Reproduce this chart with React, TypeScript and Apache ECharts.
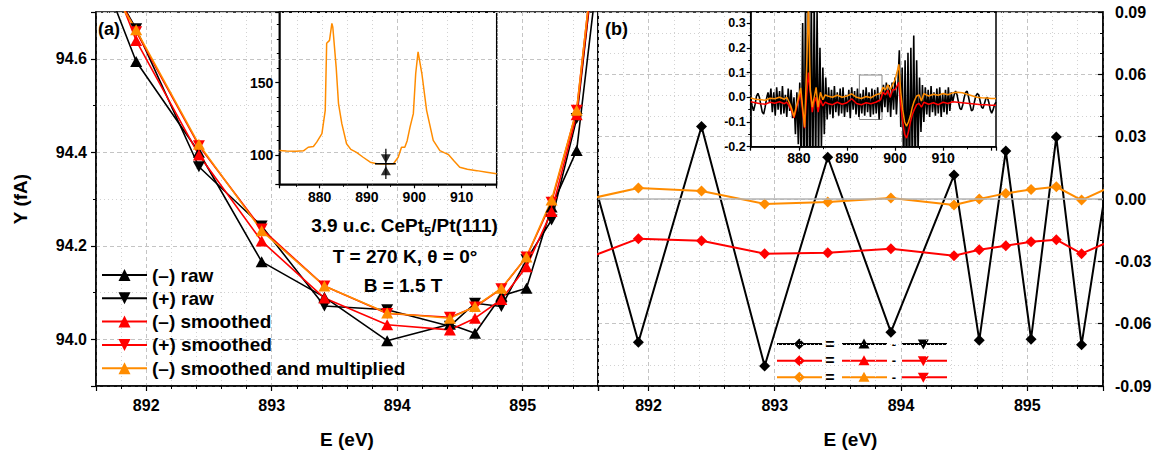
import React, { useEffect, useRef } from 'react';
import * as echarts from 'echarts';

// ---------- main panels: photon energies of the measured points ----------
const energies = [891.42, 891.92, 892.42, 892.92, 893.42, 893.92, 894.42, 894.62, 894.83, 895.03, 895.23, 895.43, 895.63];

// panel (a): Y (fA)
const rawMinus = [94.94, 94.594, 94.40, 94.166, 94.09, 93.997, 94.032, 94.013, 94.093, 94.109, 94.283, 94.404, 94.86];
const rawPlus = [94.90, 94.664, 94.369, 94.242, 94.071, 94.063, 94.028, 94.077, 94.07, 94.17, 94.255, 94.472, 94.95];
const smoothMinus = [94.985, 94.639, 94.394, 94.21, 94.088, 94.031, 94.02, 94.045, 94.085, 94.155, 94.273, 94.48, 94.95];
const smoothPlus = [94.92, 94.658, 94.414, 94.236, 94.114, 94.055, 94.047, 94.069, 94.108, 94.176, 94.293, 94.49, 94.97];
const smoothMult = [94.877, 94.662, 94.417, 94.232, 94.114, 94.056, 94.045, 94.07, 94.109, 94.176, 94.298, 94.49, 94.97];

// panel (b): differences
const diffRaw = [0.0407, -0.0689, 0.0349, -0.0804, 0.0201, -0.0641, 0.0115, -0.068, 0.0231, -0.0675, 0.0298, -0.0702, 0.008];
const diffSmooth = [-0.0306, -0.0191, -0.0201, -0.0263, -0.0259, -0.0239, -0.0273, -0.0244, -0.0225, -0.0206, -0.0196, -0.0263, -0.021];
const diffMult = [-0.0014, 0.0053, 0.0038, -0.0024, -0.0014, 0.0005, -0.0029, 0.0, 0.0027, 0.0046, 0.0059, -0.0005, 0.005];

// ---------- inset (a): XAS spectrum ----------
const xasE = [871.5, 873, 875, 876.6, 877.6, 878.7, 879.4, 880.5, 881.2, 881.5, 882.1, 882.6, 882.8, 883.5, 884.0, 884.7, 885.7, 886.6, 887.8, 889.2, 890.7, 892.1, 893.5, 894.5, 895.6, 896.6, 897.3, 898.0, 898.5, 899.1, 899.8, 900.3, 900.8, 901.6, 902.6, 904.0, 905.4, 906.3, 907.2, 908.4, 909.6, 911.2, 913.2, 915.3, 917.4];
const xasY = [103.2, 102.9, 102.7, 103.0, 105.5, 106, 109, 114.8, 130.9, 177, 179, 190.7, 188, 160.8, 135.5, 121.7, 107.9, 104, 102, 98.6, 95.2, 94.1, 94.0, 94.0, 94.1, 98.6, 105.5, 105.5, 110, 119.3, 128.6, 156.2, 171.1, 156.2, 130.9, 110.2, 103.2, 101.8, 100.5, 96, 91.7, 90.3, 89.4, 88.3, 87.2];
const markE = 894.0;
const markDownY = 97.5;
const markUpY = 89.4;
const markBarY = [83.7, 104.4];
const markLevel = 94.06;
const markSpan = [891.7, 896.1];

// ---------- inset (b): XMCD spectra ----------
const rawDiffStart = 870;
const rawDiffStep = 0.3;
const rawDiffInset = [
  -0.005, -0.035, -0.055, -0.03, 0.005, 0.016, 0.0, -0.03, -0.06, -0.068, -0.04, -0.005, 0.02, -0.02,
  0.035, -0.06, 0.02, -0.075, 0.04, -0.05, 0.025, -0.07, 0.045, -0.065, 0.01, -0.08, 0.035, -0.055, 0.03, -0.085, 0.0,
  -0.15, 0.02, -0.19, 0.06,
  -0.3, 0.3, -0.35, 0.4, -0.4, 0.45, -0.4, 0.4, -0.35, 0.4, -0.3, 0.35,
  -0.25, 0.2, -0.2, 0.12, -0.15, 0.08,
  -0.09, 0.04, -0.07, 0.03, -0.085, 0.045, -0.06, 0.02, -0.075, 0.035, -0.065, 0.04, -0.08, 0.01, -0.06, 0.03, -0.085, 0.04, -0.05, 0.025,
  -0.07, 0.035, -0.08, 0.015, -0.065, 0.03, -0.075, 0.04, -0.06, 0.02, -0.08, 0.035, -0.07, 0.03, -0.065, 0.04, -0.09, 0.02, -0.06, 0.05,
  -0.04, 0.06, -0.06, 0.05, -0.08, 0.06, -0.05,
  0.08, -0.07, 0.05, 0.19, -0.12,
  0.12, -0.3, 0.15, -0.35, 0.18, -0.35, 0.2, -0.3, 0.25, -0.3, 0.15,
  -0.22, 0.08, -0.14, 0.05,
  -0.1, 0.04, -0.07, 0.03, -0.08, 0.045, -0.06, 0.02, -0.075, 0.035, -0.065, 0.04, -0.08, 0.015, -0.06, 0.03, -0.07, 0.04, -0.055, 0.02,
  -0.02, 0.01, 0.025, 0.01, -0.02, -0.045, -0.05, -0.03, 0.0, 0.02, 0.025, 0.0, -0.03, -0.055, -0.05, -0.02, 0.005, 0.015, 0.01, -0.015,
  -0.04, -0.045, -0.025, -0.005, 0.0, -0.02, -0.05, -0.065, -0.05, -0.03, -0.02,
];
const smoothInsetE = [870, 871, 872, 873, 874, 875, 876, 877, 877.5, 878, 878.5, 879, 879.5, 880, 880.4, 880.8, 881.2, 881.6, 882.0, 882.4, 882.8, 883.2, 883.6, 884.0, 884.5, 885, 885.5, 886, 887, 888, 889, 890, 891, 892, 893, 894, 895, 896, 897, 897.5, 898, 898.5, 899, 899.5, 900, 900.4, 900.8, 901.2, 901.6, 902, 902.4, 902.8, 903.2, 903.6, 904, 904.5, 905, 905.5, 906, 907, 908, 909, 910, 911, 912, 913, 914, 915, 916, 917, 918, 919, 920, 921];
const multDiffInset = [-0.003, -0.008, -0.01, -0.012, -0.004, -0.006, 0.0, -0.008, 0.0, -0.02, -0.045, -0.078, -0.035, 0.005, 0.038, -0.04, -0.12, 0.1, 0.38, 0.03, -0.04, 0.0, 0.04, -0.04, 0.02, -0.01, 0.01, 0.005, 0.0, 0.008, 0.0, 0.005, 0.014, 0.0, -0.005, 0.003, -0.002, 0.01, 0.015, 0.04, 0.03, 0.05, 0.03, 0.05, 0.07, 0.1, 0.133, 0.02, -0.05, -0.1, -0.117, -0.1, -0.075, -0.04, -0.015, 0.005, 0.01, -0.015, 0.015, 0.005, 0.012, 0.008, 0.015, 0.01, 0.018, 0.02, 0.018, 0.012, 0.006, 0.0, -0.002, -0.003, -0.005, -0.005];
const smoothDiffInset = [-0.018, -0.022, -0.026, -0.028, -0.02, -0.024, -0.018, -0.026, -0.02, -0.035, -0.055, -0.083, -0.045, -0.01, 0.02, -0.06, -0.125, 0.0, 0.1, 0.02, -0.06, -0.02, 0.0, -0.06, -0.01, -0.035, -0.02, -0.025, -0.03, -0.02, -0.028, -0.022, -0.006, -0.025, -0.03, -0.022, -0.026, -0.02, -0.01, 0.02, 0.01, 0.028, 0.0, 0.03, 0.03, 0.045, 0.06, -0.03, -0.1, -0.15, -0.165, -0.14, -0.1, -0.07, -0.05, -0.03, -0.025, -0.04, -0.02, -0.028, -0.022, -0.03, -0.02, -0.025, -0.018, -0.02, -0.022, -0.024, -0.026, -0.028, -0.03, -0.03, -0.032, -0.032];
const zoomBoxE = [892.6, 897.3];
const zoomBoxY = [-0.09, 0.09];
const insetBLabels = [880, 890, 900, 910];

const legendNames = ['(\u2013) raw', '(+) raw', '(\u2013) smoothed', '(+) smoothed', '(\u2013) smoothed and multiplied'];

// ---------- styling ----------
const F = '"Liberation Sans", Arial, Helvetica, sans-serif';
const BLACK = '#000000';
const RED = '#ff0000';
const ORANGE = '#ff8c00';
const UP = 'path://M5,0L10,9L0,9Z';
const DOWN = 'path://M0,0L10,0L5,9Z';

const pairs = (xs: number[], ys: number[]) => xs.map((x, i) => [x, ys[i]]);

const majorSplit = { show: true, lineStyle: { color: '#c4c4c4', width: 1, type: [4, 3] } };
const minorSplit = { show: true, lineStyle: { color: '#d2d2d2', width: 1, type: [1, 3] } };
const axisLine = { show: true, onZero: false, lineStyle: { color: BLACK, width: 1.5 } };

function mainX(gridIndex: number) {
  return {
    gridIndex, type: 'value', min: 891.6, max: 895.6, splitNumber: 4,
    name: 'E (eV)', nameLocation: 'middle', nameGap: 44,
    nameTextStyle: { color: BLACK, fontWeight: 'bold', fontSize: 19, fontFamily: F },
    axisLine,
    axisTick: { show: true, inside: false, length: 5, lineStyle: { color: BLACK, width: 1.2 } },
    minorTick: { show: true, splitNumber: 5, length: 3, lineStyle: { color: BLACK, width: 1 } },
    axisLabel: { color: BLACK, fontWeight: 'bold', fontSize: 16, fontFamily: F, margin: 11, showMinLabel: false, showMaxLabel: false },
    splitLine: majorSplit, minorSplitLine: minorSplit,
  };
}

function insetAxisCommon() {
  return {
    axisLine,
    axisTick: { show: true, inside: false, length: 4, lineStyle: { color: BLACK, width: 1.2 } },
    minorTick: { show: true, splitNumber: 2, length: 2.5, lineStyle: { color: BLACK, width: 1 } },
    splitLine: { show: false },
  };
}

function legendRow(y: number, c1: string, c2: string, c3: string) {
  const textStyle = { fill: BLACK, fontWeight: 'bold', fontFamily: F, align: 'center', verticalAlign: 'middle' };
  const bar = (x0: number, color: string) => ({ type: 'rect', shape: { x: x0, y: y - 1, width: 45, height: 2 }, style: { fill: color } });
  return [
    bar(777, c1),
    { type: 'polygon', shape: { points: [[799.3, y - 5.5], [804.8, y], [799.3, y + 5.5], [793.8, y]] }, style: { fill: c1 } },
    { type: 'text', x: 830, y: y, style: { ...textStyle, fontSize: 16, lineHeight: 15, text: '=' } },
    bar(842, c2),
    { type: 'polygon', shape: { points: [[864, y - 5.5], [869.5, y + 4.5], [858.5, y + 4.5]] }, style: { fill: c2 } },
    { type: 'text', x: 894, y: y, style: { ...textStyle, fontSize: 13, lineHeight: 12, text: '-' } },
    bar(902, c3),
    { type: 'polygon', shape: { points: [[923.3, y + 5.5], [928.8, y - 4.5], [917.8, y - 4.5]] }, style: { fill: c3 } },
  ];
}

function buildOption() {
  const mainSeries = (name: string, ys: number[], color: string, symbol: string) => ({
    name, type: 'line', xAxisIndex: 0, yAxisIndex: 0, data: pairs(energies, ys),
    symbol, symbolSize: [12, 11], color, itemStyle: { color }, lineStyle: { color, width: 1.6 },
    clip: true, emphasis: { disabled: true },
  });
  const diffSeries = (name: string, ys: number[], color: string) => ({
    name, type: 'line', xAxisIndex: 1, yAxisIndex: 1, data: pairs(energies, ys),
    symbol: 'diamond', symbolSize: 11, color, itemStyle: { color }, lineStyle: { color, width: 2 },
    clip: true, emphasis: { disabled: true },
  });
  const rawInsetData = rawDiffInset.map((v, i) => [rawDiffStart + i * rawDiffStep, v]);

  const textBase = { fill: BLACK, fontWeight: 'bold', fontFamily: F };

  return {
    animation: false,
    backgroundColor: '#ffffff',
    textStyle: { fontFamily: F },
    grid: [
      { left: 96, top: 12, width: 502, height: 374, show: true, borderColor: BLACK, borderWidth: 1.5, backgroundColor: 'transparent' },
      { left: 598, top: 12, width: 505, height: 374, show: true, borderColor: BLACK, borderWidth: 1.5, backgroundColor: 'transparent' },
      { left: 279.3, top: 12, width: 217.4, height: 172.3, show: true, borderColor: BLACK, borderWidth: 1.5, backgroundColor: 'transparent' },
      { left: 750.7, top: 12, width: 245.3, height: 134.7, show: true, borderColor: BLACK, borderWidth: 1.5, backgroundColor: 'transparent' },
    ],
    xAxis: [
      mainX(0),
      mainX(1),
      {
        gridIndex: 2, type: 'value', min: 871.5, max: 917.4, splitNumber: 5, ...insetAxisCommon(),
        axisLabel: { color: BLACK, fontWeight: 'bold', fontSize: 14, fontFamily: F, margin: 6, showMinLabel: false, showMaxLabel: false },
      },
      {
        gridIndex: 3, type: 'value', min: 870, max: 921, splitNumber: 5, ...insetAxisCommon(),
        axisLabel: {
          color: BLACK, fontWeight: 'bold', fontSize: 14, fontFamily: F, margin: 4, showMinLabel: false, showMaxLabel: false,
          formatter: (v: number) => (insetBLabels.indexOf(Math.round(v)) >= 0 && Math.abs(v - Math.round(v)) < 1e-6 ? String(Math.round(v)) : ''),
        },
      },
    ],
    yAxis: [
      {
        gridIndex: 0, type: 'value', min: 93.9, max: 94.7, splitNumber: 4,
        name: 'Y (fA)', nameLocation: 'middle', nameGap: 66,
        nameTextStyle: { color: BLACK, fontWeight: 'bold', fontSize: 19, fontFamily: F },
        axisLine,
        axisTick: { show: true, inside: false, length: 5, lineStyle: { color: BLACK, width: 1.2 } },
        minorTick: { show: true, splitNumber: 2, length: 3, lineStyle: { color: BLACK, width: 1 } },
        axisLabel: { color: BLACK, fontWeight: 'bold', fontSize: 16, fontFamily: F, margin: 9, showMinLabel: false, showMaxLabel: false, formatter: (v: number) => v.toFixed(1) },
        splitLine: majorSplit, minorSplitLine: minorSplit,
      },
      {
        gridIndex: 1, type: 'value', position: 'right', min: -0.09, max: 0.09, interval: 0.03,
        axisLine,
        axisTick: { show: true, inside: true, length: 5, lineStyle: { color: BLACK, width: 1.2 } },
        minorTick: { show: true, splitNumber: 3, length: 3, lineStyle: { color: BLACK, width: 1 } },
        axisLabel: { color: BLACK, fontWeight: 'bold', fontSize: 16, fontFamily: F, margin: 12, formatter: (v: number) => (Math.abs(v) < 1e-9 ? '0.00' : v.toFixed(2)) },
        splitLine: majorSplit, minorSplitLine: minorSplit,
      },
      {
        gridIndex: 2, type: 'value', min: 80, max: 198.5, splitNumber: 2, ...insetAxisCommon(),
        minorTick: { show: true, splitNumber: 5, length: 2.5, lineStyle: { color: BLACK, width: 1 } },
        axisLabel: { color: BLACK, fontWeight: 'bold', fontSize: 14, fontFamily: F, margin: 6, showMinLabel: false, showMaxLabel: false },
      },
      {
        gridIndex: 3, type: 'value', min: -0.2, max: 0.345, interval: 0.1, ...insetAxisCommon(),
        axisLabel: { color: BLACK, fontWeight: 'bold', fontSize: 12.5, fontFamily: F, margin: 5, showMaxLabel: false, formatter: (v: number) => (Math.abs(v) < 1e-9 ? '0.0' : v.toFixed(1)) },
      },
    ],
    legend: {
      orient: 'vertical', left: 101, top: 265, padding: 0, itemGap: 3.3, itemWidth: 45, itemHeight: 15,
      selectedMode: false, data: legendNames,
      textStyle: { color: BLACK, fontWeight: 'bold', fontSize: 19, fontFamily: F, lineHeight: 20, padding: [0, 0, 0, 0] },
    },
    series: [
      mainSeries(legendNames[0], rawMinus, BLACK, UP),
      mainSeries(legendNames[1], rawPlus, BLACK, DOWN),
      mainSeries(legendNames[2], smoothMinus, RED, UP),
      mainSeries(legendNames[3], smoothPlus, RED, DOWN),
      mainSeries(legendNames[4], smoothMult, ORANGE, UP),
      {
        name: 'zero', type: 'line', xAxisIndex: 1, yAxisIndex: 1, data: [], silent: true,
        markLine: { silent: true, symbol: 'none', label: { show: false }, lineStyle: { color: '#b4b4b4', width: 1.5, type: 'solid' }, data: [{ yAxis: 0 }] },
      },
      diffSeries('raw difference', diffRaw, BLACK),
      diffSeries('smoothed difference', diffSmooth, RED),
      diffSeries('multiplied difference', diffMult, ORANGE),
      {
        name: 'XAS', type: 'line', xAxisIndex: 2, yAxisIndex: 2, data: pairs(xasE, xasY), symbol: 'none',
        lineStyle: { color: ORANGE, width: 1.5 }, color: ORANGE, emphasis: { disabled: true },
      },
      {
        name: 'window', type: 'line', xAxisIndex: 2, yAxisIndex: 2, data: [[markSpan[0], markLevel], [markSpan[1], markLevel]], symbol: 'none',
        lineStyle: { color: BLACK, width: 1.5 }, color: BLACK, emphasis: { disabled: true },
      },
      {
        name: 'window bar', type: 'line', xAxisIndex: 2, yAxisIndex: 2, data: [[markE, markBarY[0]], [markE, markBarY[1]]], symbol: 'none',
        lineStyle: { color: BLACK, width: 1.2 }, color: BLACK, emphasis: { disabled: true },
      },
      {
        name: 'window marks', type: 'scatter', xAxisIndex: 2, yAxisIndex: 2,
        data: [
          { value: [markE, markDownY], symbol: DOWN },
          { value: [markE, markUpY], symbol: UP },
        ],
        symbolSize: [10, 9], itemStyle: { color: BLACK }, emphasis: { disabled: true },
      },
      {
        name: 'XMCD raw', type: 'line', xAxisIndex: 3, yAxisIndex: 3, data: rawInsetData, symbol: 'none',
        lineStyle: { color: BLACK, width: 1.6 }, color: BLACK, clip: true, emphasis: { disabled: true },
      },
      {
        name: 'XMCD smoothed', type: 'line', xAxisIndex: 3, yAxisIndex: 3, data: pairs(smoothInsetE, smoothDiffInset), symbol: 'none',
        lineStyle: { color: RED, width: 1.5 }, color: RED, clip: true, emphasis: { disabled: true },
      },
      {
        name: 'XMCD multiplied', type: 'line', xAxisIndex: 3, yAxisIndex: 3, data: pairs(smoothInsetE, multDiffInset), symbol: 'none',
        lineStyle: { color: ORANGE, width: 1.5 }, color: ORANGE, clip: true, emphasis: { disabled: true },
      },
      {
        name: 'zoom box', type: 'line', xAxisIndex: 3, yAxisIndex: 3, data: [], silent: true,
        markArea: {
          silent: true, label: { show: false },
          itemStyle: { color: 'rgba(0,0,0,0)', borderColor: '#8a8a8a', borderWidth: 1 },
          data: [[{ coord: [zoomBoxE[0], zoomBoxY[1]] }, { coord: [zoomBoxE[1], zoomBoxY[0]] }]],
        },
      },
    ],
    graphic: {
      elements: [
        { type: 'text', x: 98, y: 28.5, z: 100, style: { ...textBase, text: '(a)', fontSize: 18, align: 'left', verticalAlign: 'middle' } },
        { type: 'text', x: 605, y: 28.5, z: 100, style: { ...textBase, text: '(b)', fontSize: 18, align: 'left', verticalAlign: 'middle' } },
        {
          type: 'text', x: 404.5, y: 225, z: 100,
          style: {
            ...textBase, fontSize: 19, text: '3.9 u.c. CePt{s|5}/Pt(111)', align: 'center', verticalAlign: 'middle',
            rich: { s: { fontSize: 13, fontWeight: 'bold', fontFamily: F, fill: BLACK, padding: [12, 0, 0, 0] } },
          },
        },
        { type: 'text', x: 405, y: 256.5, z: 100, style: { ...textBase, fontSize: 19, text: 'T = 270 K, \u03b8 = 0\u00b0', align: 'center', verticalAlign: 'middle' } },
        { type: 'text', x: 403, y: 285, z: 100, style: { ...textBase, fontSize: 19, text: 'B = 1.5 T', align: 'center', verticalAlign: 'middle' } },
        { type: 'group', z: 100, children: [
          ...legendRow(344, BLACK, BLACK, BLACK),
          ...legendRow(360.7, RED, RED, RED),
          ...legendRow(377.3, ORANGE, ORANGE, RED),
        ] },
      ],
    },
  };
}

export default function App() {
  const ref = useRef<HTMLDivElement>(null);
  useEffect(() => {
    if (!ref.current) return;
    const chart = echarts.init(ref.current, undefined, { renderer: 'svg' });
    chart.setOption(buildOption() as any);
    return () => chart.dispose();
  }, []);
  return <div ref={ref} style={{ position: 'fixed', left: 0, top: 0, width: 1168, height: 455, background: '#fff' }} />;
}
